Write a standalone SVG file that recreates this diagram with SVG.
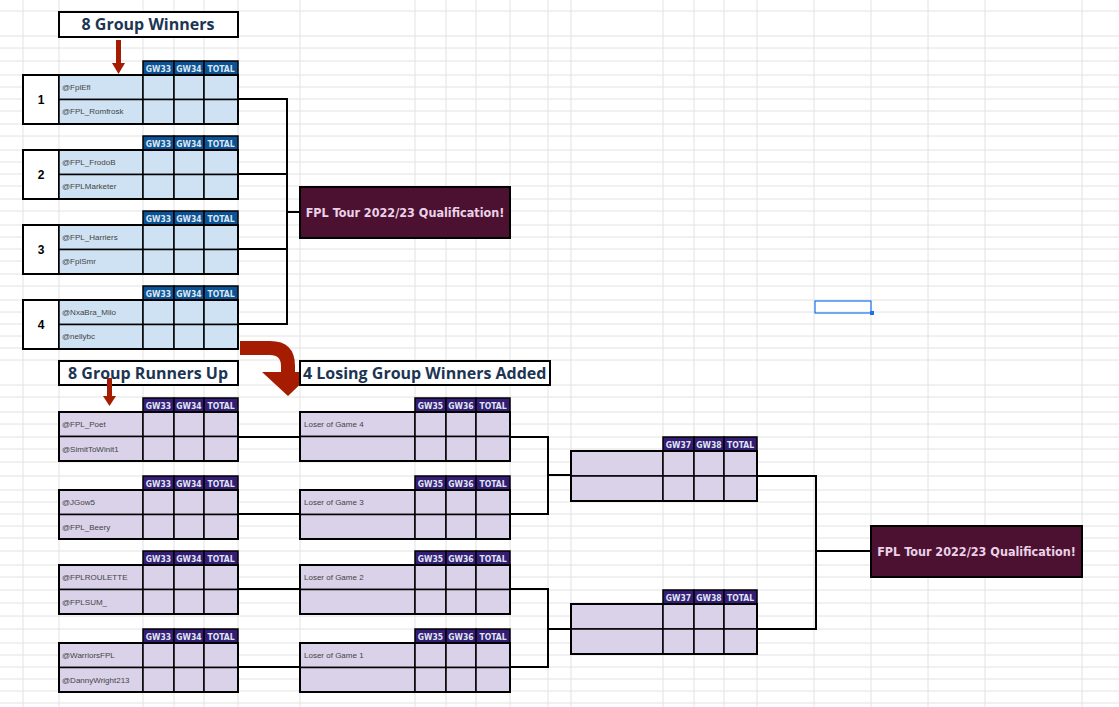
<svg xmlns="http://www.w3.org/2000/svg" width="1119" height="707" viewBox="0 0 1119 707">
<style>
.grid{stroke:#e2e2e2;stroke-width:1;fill:none}
.bh{fill:#0b5394;stroke:#000;stroke-width:1.5}
.bl{fill:#cfe2f3;stroke:#000;stroke-width:1.5}
.ph{fill:#351c75;stroke:#000;stroke-width:1.5}
.pl{fill:#d9d2e9;stroke:#000;stroke-width:1.5}
.wh{fill:#fff;stroke:#000;stroke-width:2}
.ob{fill:none;stroke:#000;stroke-width:2}
.hd{font:bold 8.5px "DejaVu Sans Condensed","DejaVu Sans",sans-serif;fill:#dfe6f2;text-anchor:middle}
.nm{font:8px "Liberation Sans",Arial,sans-serif;fill:#444}
.num{font:bold 12px "Liberation Sans",Arial,sans-serif;fill:#000;text-anchor:middle}
.ttl{font:bold 16px "Open Sans","Liberation Sans",sans-serif;fill:#1c3553}
.fin{fill:#4c1130;stroke:#000;stroke-width:2}
.ft{font:bold 12.5px "DejaVu Sans Condensed","DejaVu Sans",sans-serif;fill:#ead1e8;text-anchor:middle}
.cn{stroke:#000;stroke-width:2;fill:none}
</style>
<rect width="1119" height="707" fill="#fff"/>
<g id="grid">
<path class="grid" d="M23,0V707M59,0V707M143,0V707M174,0V707M204,0V707M238,0V707M300,0V707M415,0V707M446,0V707M476,0V707M510,0V707M548,0V707M571,0V707M663,0V707M694,0V707M724,0V707M757,0V707M814,0V707M871,0V707M928,0V707M985,0V707M1082,0V707"/>
<path class="grid" d="M0,11H1119M0,36H1119M0,48H1119M0,61H1119M0,75H1119M0,87H1119M0,99H1119M0,111H1119M0,124H1119M0,136H1119M0,150H1119M0,162H1119M0,174H1119M0,186H1119M0,199H1119M0,211H1119M0,225H1119M0,237H1119M0,249H1119M0,261H1119M0,274H1119M0,286H1119M0,300H1119M0,312H1119M0,324H1119M0,336H1119M0,348H1119M0,360H1119M0,385H1119M0,397H1119M0,412H1119M0,424H1119M0,437H1119M0,449H1119M0,462H1119M0,476H1119M0,490H1119M0,502H1119M0,514H1119M0,526H1119M0,538H1119M0,551H1119M0,565H1119M0,577H1119M0,590H1119M0,603H1119M0,616H1119M0,629H1119M0,643H1119M0,655H1119M0,667H1119M0,679H1119M0,691H1119M0,703H1119"/>
<rect x="815" y="301" width="56" height="12" fill="none" stroke="#1a73e8" stroke-width="1.2"/>
<rect x="870" y="311" width="4" height="4" fill="#1a73e8"/>
</g>
<defs>
<g id="tblue">
<rect class="bh" x="143" y="0" width="31" height="14"/><rect class="bh" x="174" y="0" width="30" height="14"/><rect class="bh" x="204" y="0" width="34" height="14"/>
<text class="hd" x="158.5" y="10.5">GW33</text><text class="hd" x="189" y="10.5">GW34</text><text class="hd" x="221" y="10.5">TOTAL</text>
<rect class="wh" x="23" y="14" width="36" height="49"/>
<rect class="bl" x="59" y="14" width="84" height="24.5"/><rect class="bl" x="59" y="38.5" width="84" height="24.5"/>
<rect class="bl" x="143" y="14" width="31" height="24.5"/><rect class="bl" x="174" y="14" width="30" height="24.5"/><rect class="bl" x="204" y="14" width="34" height="24.5"/>
<rect class="bl" x="143" y="38.5" width="31" height="24.5"/><rect class="bl" x="174" y="38.5" width="30" height="24.5"/><rect class="bl" x="204" y="38.5" width="34" height="24.5"/>
<rect class="ob" x="23" y="14" width="215" height="49"/>
</g>
<g id="tpurp">
<rect class="ph" x="143" y="0" width="31" height="14"/><rect class="ph" x="174" y="0" width="30" height="14"/><rect class="ph" x="204" y="0" width="34" height="14"/>
<text class="hd" x="158.5" y="10.5">GW33</text><text class="hd" x="189" y="10.5">GW34</text><text class="hd" x="221" y="10.5">TOTAL</text>
<rect class="pl" x="59" y="14" width="84" height="24.5"/><rect class="pl" x="59" y="38.5" width="84" height="24.5"/>
<rect class="pl" x="143" y="14" width="31" height="24.5"/><rect class="pl" x="174" y="14" width="30" height="24.5"/><rect class="pl" x="204" y="14" width="34" height="24.5"/>
<rect class="pl" x="143" y="38.5" width="31" height="24.5"/><rect class="pl" x="174" y="38.5" width="30" height="24.5"/><rect class="pl" x="204" y="38.5" width="34" height="24.5"/>
<rect class="ob" x="59" y="14" width="179" height="49"/>
</g>
<g id="tlos">
<rect class="ph" x="415" y="0" width="31" height="14"/><rect class="ph" x="446" y="0" width="30" height="14"/><rect class="ph" x="476" y="0" width="34" height="14"/>
<text class="hd" x="430.5" y="10.5">GW35</text><text class="hd" x="461" y="10.5">GW36</text><text class="hd" x="493" y="10.5">TOTAL</text>
<rect class="pl" x="300" y="14" width="115" height="24.5"/><rect class="pl" x="300" y="38.5" width="115" height="24.5"/>
<rect class="pl" x="415" y="14" width="31" height="24.5"/><rect class="pl" x="446" y="14" width="30" height="24.5"/><rect class="pl" x="476" y="14" width="34" height="24.5"/>
<rect class="pl" x="415" y="38.5" width="31" height="24.5"/><rect class="pl" x="446" y="38.5" width="30" height="24.5"/><rect class="pl" x="476" y="38.5" width="34" height="24.5"/>
<rect class="ob" x="300" y="14" width="210" height="49"/>
</g>
<g id="tsemi">
<rect class="ph" x="663" y="0" width="31" height="14"/><rect class="ph" x="694" y="0" width="30" height="14"/><rect class="ph" x="724" y="0" width="33" height="14"/>
<text class="hd" x="678.5" y="10.5">GW37</text><text class="hd" x="709" y="10.5">GW38</text><text class="hd" x="740.5" y="10.5">TOTAL</text>
<rect class="pl" x="571" y="14" width="92" height="25"/><rect class="pl" x="571" y="39" width="92" height="25"/>
<rect class="pl" x="663" y="14" width="31" height="25"/><rect class="pl" x="694" y="14" width="30" height="25"/><rect class="pl" x="724" y="14" width="33" height="25"/>
<rect class="pl" x="663" y="39" width="31" height="25"/><rect class="pl" x="694" y="39" width="30" height="25"/><rect class="pl" x="724" y="39" width="33" height="25"/>
<rect class="ob" x="571" y="14" width="186" height="50"/>
</g>
</defs>

<g id="connectors">
<path class="cn" d="M238,99H287V324H238M238,174H287M238,249H287M287,212H300"/>
<path class="cn" d="M238,437H300M238,514H300M238,589H300M238,667H300"/>
<path class="cn" d="M510,437H548V514H510M548,475H571"/>
<path class="cn" d="M510,589H548V667H510M548,629H571"/>
<path class="cn" d="M757,476H816V629H757M816,551H871"/>
</g>

<g id="title-winners"><rect class="wh" x="59" y="12" width="179" height="25"/><text class="ttl" x="148" y="30" text-anchor="middle">8 Group Winners</text></g>
<g id="arrow-winners"><rect x="116" y="40" width="5" height="24" fill="#a61c00"/><path d="M112,63 L125,63 L118.5,74Z" fill="#a61c00"/></g>

<g id="w1"><use href="#tblue" y="61"/><text class="num" x="41" y="104">1</text><text class="nm" x="62" y="90">@FplEfl</text><text class="nm" x="62" y="114">@FPL_Romfrosk</text></g>
<g id="w2"><use href="#tblue" y="136"/><text class="num" x="41" y="179">2</text><text class="nm" x="62" y="165">@FPL_FrodoB</text><text class="nm" x="62" y="189">@FPLMarketer</text></g>
<g id="w3"><use href="#tblue" y="211"/><text class="num" x="41" y="254">3</text><text class="nm" x="62" y="240">@FPL_Harriers</text><text class="nm" x="62" y="264">@FplSmr</text></g>
<g id="w4"><use href="#tblue" y="286"/><text class="num" x="41" y="329">4</text><text class="nm" x="62" y="315">@NxaBra_Milo</text><text class="nm" x="62" y="339">@nellybc</text></g>

<g id="final-top"><rect class="fin" x="300" y="187" width="210" height="51"/><text class="ft" x="405" y="216.5">FPL Tour 2022/23 Qualification!</text></g>

<g id="title-runners"><rect class="wh" x="59" y="361" width="179" height="24"/><text class="ttl" x="148" y="379" text-anchor="middle">8 Group Runners Up</text></g>
<g id="arrow-runners"><rect x="107" y="378" width="5" height="20" fill="#a61c00"/><path d="M103,396 L116,396 L109.5,406Z" fill="#a61c00"/></g>
<g id="arrow-curve"><path d="M240,341 L270,341 Q295,341 295,366 L295,372 L313,372 L288,396 L262,372 L281,372 L281,366 Q281,355 270,355 L240,355 Z" fill="#a61c00"/></g>
<g id="title-losers"><rect class="wh" x="300" y="361" width="250" height="24"/><text class="ttl" x="303" y="379">4 Losing Group Winners Added</text></g>

<g id="r1"><use href="#tpurp" y="398"/><text class="nm" x="62" y="427">@FPL_Poet</text><text class="nm" x="62" y="452">@SimitToWinit1</text></g>
<g id="r2"><use href="#tpurp" y="476"/><text class="nm" x="62" y="505">@JGow5</text><text class="nm" x="62" y="530">@FPL_Beery</text></g>
<g id="r3"><use href="#tpurp" y="551"/><text class="nm" x="62" y="580">@FPLROULETTE</text><text class="nm" x="62" y="605">@FPLSUM_</text></g>
<g id="r4"><use href="#tpurp" y="629"/><text class="nm" x="62" y="658">@WarriorsFPL</text><text class="nm" x="62" y="683">@DannyWright213</text></g>

<g id="l1"><use href="#tlos" y="398"/><text class="nm" x="304" y="427">Loser of Game 4</text></g>
<g id="l2"><use href="#tlos" y="476"/><text class="nm" x="304" y="505">Loser of Game 3</text></g>
<g id="l3"><use href="#tlos" y="551"/><text class="nm" x="304" y="580">Loser of Game 2</text></g>
<g id="l4"><use href="#tlos" y="629"/><text class="nm" x="304" y="658">Loser of Game 1</text></g>

<g id="s1"><use href="#tsemi" y="437"/></g>
<g id="s2"><use href="#tsemi" y="590"/></g>

<g id="final-bottom"><rect class="fin" x="871" y="526" width="211" height="51"/><text class="ft" x="976.5" y="555.5">FPL Tour 2022/23 Qualification!</text></g>
</svg>
